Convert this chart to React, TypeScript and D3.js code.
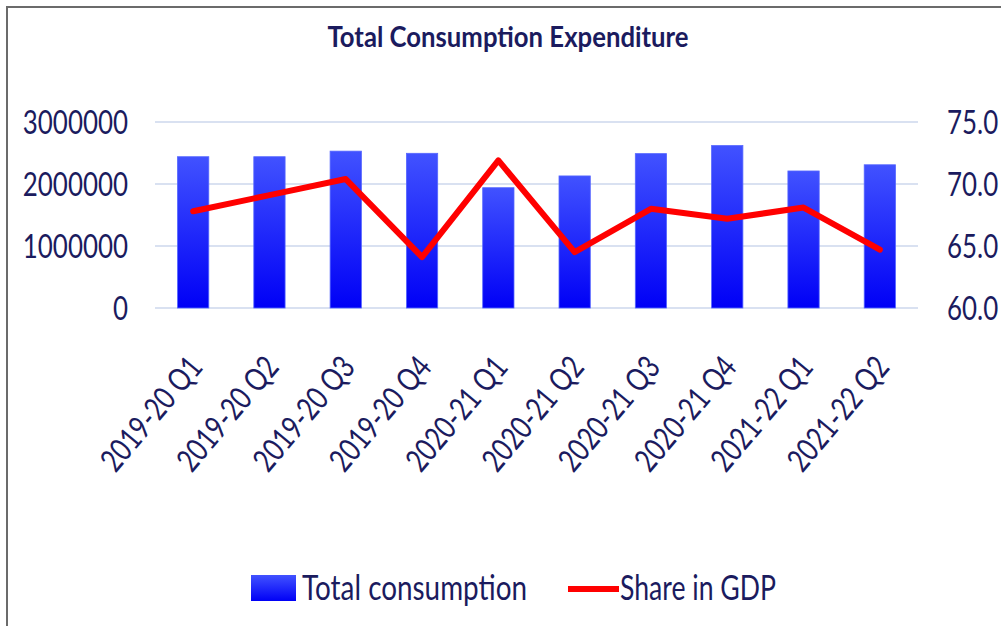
import React from 'react';
import * as d3 from 'd3';

const quarters = [
  '2019-20 Q1', '2019-20 Q2', '2019-20 Q3', '2019-20 Q4',
  '2020-21 Q1', '2020-21 Q2', '2020-21 Q3', '2020-21 Q4',
  '2021-22 Q1', '2021-22 Q2',
];
const totalConsumption = [
  2440000, 2440000, 2530000, 2495000, 1940000,
  2130000, 2490000, 2620000, 2210000, 2310000,
];
const shareInGdp = [67.8, 69.1, 70.4, 64.1, 71.9, 64.5, 68.0, 67.2, 68.1, 64.7];
const leftTicks = [0, 1000000, 2000000, 3000000];
const rightTicks = [60, 65, 70, 75];

const W = 1001;
const H = 626;
const FONT = 'Lato, "Open Sans", sans-serif';
const INK = '#1b1b5e';
// the source font is a narrow one, so squeeze Lato sideways
const SQUEEZE = 0.81;

const App = () => {
  const x = d3.scaleBand<string>()
    .domain(quarters)
    .range([155, 918])
    .paddingInner(0.59)
    .paddingOuter(0.295);

  const yLeft = d3.scaleLinear().domain([0, 3000000]).range([308, 122]);
  const yRight = d3.scaleLinear().domain([60, 75]).range([308, 122]);

  const cx = (q: string) => (x(q) ?? 0) + x.bandwidth() / 2;

  const line = d3.line<number>()
    .x((_, i) => cx(quarters[i]))
    .y(d => yRight(d));

  return (
    <div style={{ position: 'absolute', left: 0, top: 0 }}>
      <svg width={W} height={H} style={{ display: 'block', background: '#fff' }}>
        <defs>
          <linearGradient id="barFill" x1="0" y1="0" x2="0" y2="1">
            <stop offset="0%" stopColor="#4152ff" />
            <stop offset="100%" stopColor="#0000f6" />
          </linearGradient>
        </defs>

        {/* frame */}
        <path d={`M7,${H} L7,7 L${W},7`} fill="none" stroke="#6b6b6b" strokeWidth={2} />

        <text x={508} y={47} textAnchor="middle" fontFamily={FONT} fontWeight="bold"
          fontSize={28} fill={INK} textLength={361} lengthAdjust="spacingAndGlyphs">
          Total Consumption Expenditure
        </text>

        {/* gridlines */}
        {leftTicks.map(t => (
          <line key={t} x1={155} x2={918} y1={yLeft(t)} y2={yLeft(t)}
            stroke="#d9e1f1" strokeWidth={2} />
        ))}

        {leftTicks.map(t => (
          <g key={'l' + t} transform={`translate(128,${yLeft(t)}) scale(${SQUEEZE},1)`}>
            <text dy="0.36em" textAnchor="end" fontFamily={FONT} fontSize={32} fill={INK}>{t}</text>
          </g>
        ))}
        {rightTicks.map(t => (
          <g key={'r' + t} transform={`translate(947,${yRight(t)}) scale(${SQUEEZE},1)`}>
            <text dy="0.36em" textAnchor="start" fontFamily={FONT} fontSize={32} fill={INK}>
              {t.toFixed(1)}
            </text>
          </g>
        ))}

        {/* bars */}
        {quarters.map((q, i) => (
          <rect key={q} x={x(q)} y={yLeft(totalConsumption[i])} width={x.bandwidth()}
            height={yLeft(0) - yLeft(totalConsumption[i])} fill="url(#barFill)"
            stroke="#5566ff" strokeWidth={0.8} />
        ))}

        {/* share line */}
        <path d={line(shareInGdp) ?? ''} fill="none" stroke="#ff0000" strokeWidth={6}
          strokeLinejoin="round" strokeLinecap="round" />

        {/* category labels */}
        {quarters.map(q => (
          <text key={'x' + q} transform={`translate(${cx(q) + 11},368) rotate(-50)`}
            textAnchor="end" fontFamily={FONT} fontSize={32} fill={INK}
            textLength={138} lengthAdjust="spacingAndGlyphs">{q}</text>
        ))}

        {/* legend */}
        <rect x={251} y={575} width={45} height={26} fill="url(#barFill)" />
        <text x={302} y={600} fontFamily={FONT} fontSize={34} fill={INK}
          textLength={225} lengthAdjust="spacingAndGlyphs">Total consumption</text>
        <line x1={568} x2={619} y1={589} y2={589} stroke="#ff0000" strokeWidth={6} />
        <text x={620} y={600} fontFamily={FONT} fontSize={34} fill={INK}
          textLength={156} lengthAdjust="spacingAndGlyphs">Share in GDP</text>
      </svg>
    </div>
  );
};

export default App;
